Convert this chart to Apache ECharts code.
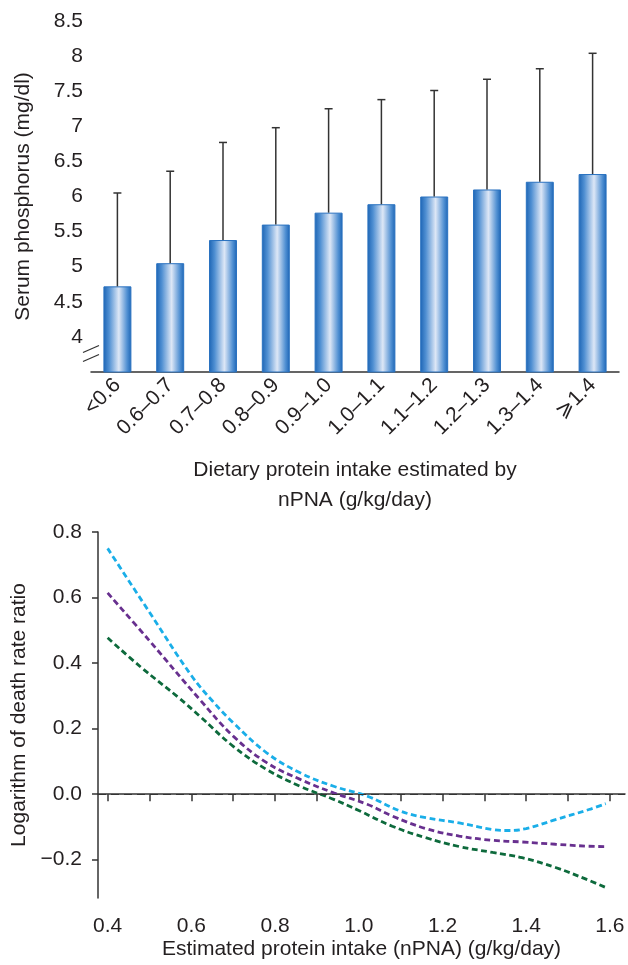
<!DOCTYPE html>
<html>
<head>
<meta charset="utf-8">
<script src="https://cdn.jsdelivr.net/npm/echarts@6/dist/echarts.min.js"></script>
<style>
  html, body { margin: 0; padding: 0; background: #fff; }
  #main { width: 628px; height: 965px; }
</style>
</head>
<body>
<div id="main"></div>
<script>
// top panel: serum phosphorus by nPNA category (mean and upper SD)
const categories = ['<0.6', '0.6–0.7', '0.7–0.8', '0.8–0.9', '0.9–1.0', '1.0–1.1', '1.1–1.2', '1.2–1.3', '1.3–1.4', '⩾1.4'];
const phosMean = [4.72, 5.05, 5.38, 5.60, 5.77, 5.89, 6.00, 6.10, 6.21, 6.32];
const phosUpper = [6.05, 6.36, 6.77, 6.98, 7.25, 7.38, 7.51, 7.67, 7.82, 8.04];
const phosTicks = [4, 4.5, 5, 5.5, 6, 6.5, 7, 7.5, 8, 8.5];

// bottom panel: log death rate ratio vs nPNA, three curves
const curveCyan = [[0.40, 0.75], [0.50, 0.555], [0.60, 0.362], [0.65, 0.285], [0.70, 0.218], [0.78, 0.126], [0.86, 0.065], [0.94, 0.024], [1.02, -0.006], [1.10, -0.052], [1.16, -0.072], [1.24, -0.088], [1.32, -0.108], [1.36, -0.111], [1.40, -0.105], [1.47, -0.078], [1.55, -0.047], [1.59, -0.029]];
const curvePurple = [[0.40, 0.614], [0.50, 0.468], [0.62, 0.289], [0.70, 0.177], [0.78, 0.096], [0.86, 0.045], [0.94, 0.004], [1.02, -0.031], [1.08, -0.067], [1.16, -0.105], [1.24, -0.128], [1.32, -0.141], [1.39, -0.146], [1.47, -0.153], [1.55, -0.159], [1.59, -0.160]];
const curveGreen = [[0.40, 0.477], [0.48, 0.387], [0.57, 0.294], [0.62, 0.238], [0.70, 0.146], [0.78, 0.075], [0.86, 0.024], [0.94, -0.016], [1.00, -0.05], [1.08, -0.098], [1.16, -0.133], [1.24, -0.160], [1.32, -0.178], [1.39, -0.194], [1.47, -0.224], [1.54, -0.258], [1.59, -0.285]];
const xTicks = [0.4, 0.5, 0.6, 0.7, 0.8, 0.9, 1.0, 1.1, 1.2, 1.3, 1.4, 1.5, 1.6];
const xLabels = [0.4, 0.6, 0.8, 1.0, 1.2, 1.4, 1.6];
const yTicks = [-0.2, 0, 0.2, 0.4, 0.6, 0.8];

const font = 'Liberation Sans, Arial, Helvetica, sans-serif';
const ink = '#231f20';
const fs = 21;
const axisLine = { lineStyle: { color: '#333', width: 1.5 } };

let chart = echarts.init(document.getElementById('main'), null, { renderer: 'canvas' });

const barGradient = new echarts.graphic.LinearGradient(0, 0, 1, 0, [
  { offset: 0, color: '#1c64b4' },
  { offset: 0.2, color: '#4f8fd2' },
  { offset: 0.55, color: '#dde7f6' },
  { offset: 0.85, color: '#4f8fd2' },
  { offset: 1, color: '#1c64b4' }
]);

const dashed = (color) => ({ color: color, width: 2.8, type: [6, 3.5] });

const option = {
  animation: false,
  textStyle: { fontFamily: font, color: ink },
  grid: [
    { left: 91, right: 9, top: 21, height: 351 },
    { left: 98, right: 3, top: 532, height: 366 }
  ],
  xAxis: [
    {
      gridIndex: 0,
      type: 'category',
      data: categories,
      axisLine: axisLine,
      axisTick: { length: 6, lineStyle: { color: '#333', width: 1.5 } },
      axisLabel: { rotate: 45, fontSize: fs, color: ink, margin: 10, fontFamily: font },
      name: 'Dietary protein intake estimated by\nnPNA (g/kg/day)',
      nameLocation: 'middle',
      nameGap: 83,
      nameTextStyle: { fontSize: fs, color: ink, lineHeight: 30, fontFamily: font }
    },
    {
      gridIndex: 1,
      type: 'value',
      min: 0.377,
      max: 1.636,
      splitLine: { show: false },
      axisLine: axisLine,
      axisTick: { length: 7, customValues: xTicks, lineStyle: { color: '#333', width: 1.5 } },
      axisLabel: {
        customValues: xLabels, fontSize: fs, color: ink, margin: 18, fontFamily: font,
        formatter: v => v.toFixed(1)
      },
      name: 'Estimated protein intake (nPNA) (g/kg/day)',
      nameLocation: 'middle',
      nameGap: 41,
      nameTextStyle: { fontSize: fs, color: ink, fontFamily: font }
    }
  ],
  yAxis: [
    {
      gridIndex: 0,
      type: 'value',
      min: 3.5,
      max: 8.5,
      splitLine: { show: false },
      axisLine: axisLine,
      axisTick: { length: 6, customValues: phosTicks, lineStyle: { color: '#333', width: 1.5 } },
      axisLabel: { customValues: phosTicks, fontSize: fs, color: ink, margin: 8, fontFamily: font },
      name: 'Serum phosphorus (mg/dl)',
      nameLocation: 'middle',
      nameGap: 57,
      nameTextStyle: { fontSize: fs, color: ink, fontFamily: font }
    },
    {
      gridIndex: 1,
      type: 'value',
      min: -0.317,
      max: 0.8,
      splitLine: { show: false },
      axisLine: axisLine,
      axisTick: { length: 6, customValues: yTicks, lineStyle: { color: '#333', width: 1.5 } },
      axisLabel: {
        customValues: yTicks, fontSize: fs, color: ink, margin: 16, fontFamily: font,
        formatter: v => (v < 0 ? '−' : '') + Math.abs(v).toFixed(1)
      },
      name: 'Logarithm of death rate ratio',
      nameLocation: 'middle',
      nameGap: 61,
      nameTextStyle: { fontSize: fs, color: ink, fontFamily: font }
    }
  ],
  series: [
    {
      type: 'bar',
      xAxisIndex: 0,
      yAxisIndex: 0,
      data: phosMean,
      barWidth: '53%',
      itemStyle: { color: barGradient, borderColor: '#2a72c0', borderWidth: 1 },
      z: 2
    },
    {
      type: 'custom',
      xAxisIndex: 0,
      yAxisIndex: 0,
      data: phosMean.map((m, i) => [i, m, phosUpper[i]]),
      z: 3,
      renderItem: (params, api) => {
        const top = api.coord([api.value(0), api.value(2)]);
        const base = api.coord([api.value(0), api.value(1)]);
        const st = { stroke: '#333', lineWidth: 1.5 };
        return {
          type: 'group',
          children: [
            { type: 'line', shape: { x1: top[0], y1: top[1], x2: base[0], y2: base[1] }, style: st },
            { type: 'line', shape: { x1: top[0] - 4, y1: top[1], x2: top[0] + 4, y2: top[1] }, style: st }
          ]
        };
      }
    },
    {
      type: 'line',
      xAxisIndex: 1,
      yAxisIndex: 1,
      data: curveCyan,
      smooth: 0.4,
      showSymbol: false,
      lineStyle: dashed('#1aaee8'),
      markLine: {
        silent: true,
        symbol: 'none',
        label: { show: false },
        lineStyle: { color: '#333', width: 1.2, type: [8, 5] },
        data: [{ yAxis: 0 }]
      }
    },
    {
      type: 'line',
      xAxisIndex: 1,
      yAxisIndex: 1,
      data: curvePurple,
      smooth: 0.4,
      showSymbol: false,
      lineStyle: dashed('#68308f')
    },
    {
      type: 'line',
      xAxisIndex: 1,
      yAxisIndex: 1,
      data: curveGreen,
      smooth: 0.4,
      showSymbol: false,
      lineStyle: dashed('#0d6a3c')
    }
  ],
  // axis break marks on the top y axis
  graphic: [
    { type: 'rect', shape: { x: 88, y: 351, width: 6, height: 5 }, style: { fill: '#fff' }, z: 100 },
    { type: 'line', shape: { x1: 83, y1: 352.5, x2: 99, y2: 345.5 }, style: { stroke: '#333', lineWidth: 1.3 }, z: 101 },
    { type: 'line', shape: { x1: 83, y1: 361.5, x2: 99, y2: 354.5 }, style: { stroke: '#333', lineWidth: 1.3 }, z: 101 }
  ]
};

chart.setOption(option);
</script>
</body>
</html>
